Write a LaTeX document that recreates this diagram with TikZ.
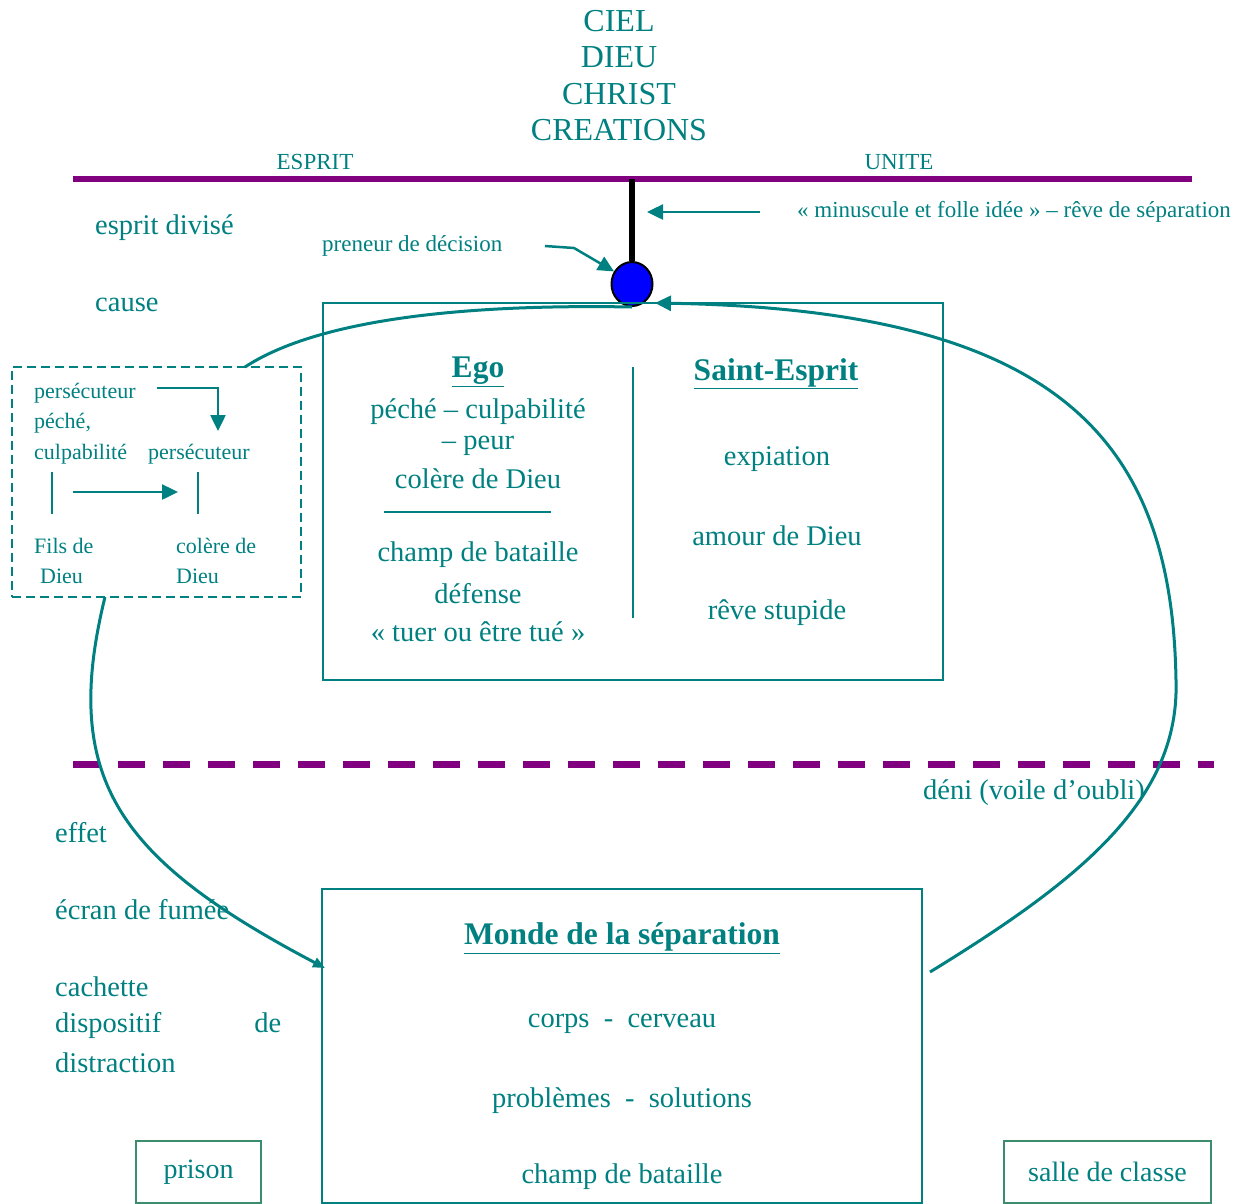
\documentclass[tikz,border=0pt]{standalone}
\usepackage{fontspec}
\setmainfont{Liberation Serif}
\usetikzlibrary{arrows.meta,shapes.geometric}

\definecolor{bleuvert}{RGB}{0,128,128}
\definecolor{pourpre}{RGB}{128,0,128}
\definecolor{vertcadre}{RGB}{60,140,110}

\tikzset{
	texte/.style={text=bleuvert, inner sep=0pt, font=\fontsize{28.5}{32}\selectfont},
	petit/.style={text=bleuvert, inner sep=0pt, font=\fontsize{22}{26}\selectfont},
	moyen/.style={text=bleuvert, inner sep=0pt, font=\fontsize{23}{26}\selectfont},
	titre/.style={text=bleuvert, inner sep=0pt, font=\fontsize{32}{36}\selectfont},
	gras/.style={text=bleuvert, inner sep=0pt, font=\fontsize{31.5}{34}\selectfont\bfseries},
	boite/.style={draw=bleuvert, line width=2pt, rectangle, inner sep=0pt},
	fleche/.style={draw=bleuvert, line width=2.5pt, -{Triangle[length=16pt,width=15pt]}},
	boucle/.style={draw=bleuvert, line width=3pt},
}

\begin{document}
\begin{tikzpicture}[x=1pt,y=-1pt]
	\useasboundingbox (0,0) rectangle (1243,1203);

	% Ciel
	\node[titre] (ciel) at (619,21) {CIEL};
	\node[titre] (dieu) at (619,57) {DIEU};
	\node[titre] (christ) at (619,94) {CHRIST};
	\node[titre] (creations) at (619,130) {CREATIONS};

	% ligne de l'unite
	\coordinate (uniteG) at (73,179);
	\coordinate (uniteD) at (1192,179);
	\draw[draw=pourpre, line width=6pt] (uniteG) -- (uniteD);
	\node[moyen] (esprit) at (315,162) {ESPRIT};
	\node[moyen] (unite) at (899,162) {UNITE};

	% preneur de decision
	\coordinate (tige) at (632,179);
	\node[ellipse, draw=black, line width=2pt, fill=blue, minimum width=41pt,
	minimum height=44pt, inner sep=0pt] (boule) at (632,284) {};
	\draw[line width=6pt] (tige) -- (boule.north);

	\node[moyen, anchor=west] (idee) at (797,212)
	{« minuscule et folle idée » – rêve de séparation};
	\coordinate (ideeD) at (760,212);
	\coordinate (ideeG) at (647,212);
	\draw[fleche] (ideeD) -- (ideeG);

	\node[moyen, anchor=west] (preneur) at (322,246) {preneur de décision};
	\coordinate (preneurD) at (545,246);
	\coordinate (preneurC) at (574,248);
	\draw[fleche] (preneurD) -- (preneurC) -- (boule.145);

	% colonne de gauche, en haut
	\node[texte, anchor=west] (divise) at (95,228) {esprit divisé};
	\node[texte, anchor=west] (cause) at (95,305) {cause};

	% cadre pointille
	\node[boite, dashed, dash pattern=on 9pt off 5pt, minimum width=289pt,
	minimum height=230pt] (cycle) at (156.5,482) {};
	\node[petit, anchor=west] (persecA) at (34,393) {persécuteur};
	\node[petit, anchor=west] (peche) at (34,423) {péché,};
	\node[petit, anchor=west] (culpa) at (34,454) {culpabilité};
	\node[petit, anchor=west] (persecB) at (148,454) {persécuteur};
	\node[petit, anchor=west] (fils) at (34,546) {Fils de};
	\node[petit, anchor=west] (filsB) at (40,576) {Dieu};
	\node[petit, anchor=west] (colere) at (176,546) {colère de};
	\node[petit, anchor=west] (colereB) at (176,576) {Dieu};
	\coordinate (barreAh) at (52,472);
	\coordinate (barreAb) at (52,514);
	\coordinate (barreBh) at (198,472);
	\coordinate (barreBb) at (198,514);
	\draw[draw=bleuvert, line width=2pt] (barreAh) -- (barreAb);
	\draw[draw=bleuvert, line width=2pt] (barreBh) -- (barreBb);
	\coordinate (filsD) at (73,492);
	\coordinate (colereG) at (178,492);
	\draw[fleche] (filsD) -- (colereG);
	\coordinate (coudeA) at (157,388);
	\coordinate (coudeB) at (218,431);
	\draw[fleche] (coudeA) -| (coudeB);

	% boite ego / saint-esprit
	\node[boite, minimum width=620pt, minimum height=377pt] (esprits) at (633,491.5) {};
	\coordinate (milieuH) at (633,367);
	\coordinate (milieuB) at (633,618);
	\draw[draw=bleuvert, line width=2pt] (milieuH) -- (milieuB);

	\node[gras] (ego) at (478,372) {\underline{Ego}};
	\node[texte] (egoA) at (478,412) {péché – culpabilité};
	\node[texte] (egoB) at (478,446) {– peur};
	\node[texte] (egoC) at (478,479) {colère de Dieu};
	\coordinate (traitG) at (384,512);
	\coordinate (traitD) at (551,512);
	\draw[draw=bleuvert, line width=2pt] (traitG) -- (traitD);
	\node[texte] (egoD) at (478,555) {champ de bataille};
	\node[texte] (egoE) at (478,594) {défense};
	\node[texte] (egoF) at (478,632) {« tuer ou être tué »};

	\node[gras] (saint) at (776,374) {\underline{Saint-Esprit}};
	\node[texte] (saintA) at (777,459) {expiation};
	\node[texte] (saintB) at (777,536) {amour de Dieu};
	\node[texte] (saintC) at (777,613) {rêve stupide};

	% ligne du deni
	\coordinate (deniG) at (73,764);
	\coordinate (deniD) at (1214,764);
	\draw[draw=pourpre, line width=7pt, dash pattern=on 27pt off 18pt] (deniG) -- (deniD);
	\node[texte, anchor=east] (deni) at (1145,793) {déni (voile d’oubli)};

	% colonne de gauche, en bas
	\node[texte, anchor=west] (effet) at (55,833) {effet};
	\node[texte, anchor=west] (ecran) at (55,910) {écran de fumée};
	\node[texte, anchor=west] (cachette) at (55,987) {cachette};
	\node[texte, anchor=west] (dispositif) at (55,1025)
	{\hbox to 226pt{dispositif\hfill de}};
	\node[texte, anchor=west] (distraction) at (55,1063) {distraction};

	% monde de la separation
	\node[boite, minimum width=600pt, minimum height=314pt] (monde) at (622,1046) {};
	\node[gras] (mondeT) at (622,938) {\underline{Monde de la séparation}};
	\node[texte] (mondeA) at (622,1024) {corps \ - \ cerveau};
	\node[texte] (mondeB) at (622,1101) {problèmes \ - \ solutions};
	\node[texte] (mondeC) at (622,1177) {champ de bataille};

	\node[draw=vertcadre, line width=2pt, text=bleuvert, inner sep=0pt,
	font=\fontsize{28}{32}\selectfont, minimum width=125pt, minimum height=62pt]
	(prison) at (198.5,1172) {prison};
	\node[draw=vertcadre, line width=2pt, text=bleuvert, inner sep=0pt,
	font=\fontsize{28}{32}\selectfont, minimum width=207pt, minimum height=62pt]
	(classe) at (1107.5,1172) {salle de classe};

	% la boucle
	\coordinate (cycleH) at (245,367);
	\coordinate (cycleB) at (105,597);
	\coordinate (mondeG) at (325,968);
	\coordinate (mondeD) at (930,972);
	\coordinate (retour) at (655,303);
	\draw[boucle] (cycleH) .. controls (320,318) and (470,304) .. (boule.south);
	\draw[boucle, -{Triangle[length=12pt,width=10pt]}] (cycleB)
	.. controls (60,780) and (120,860) .. (mondeG);
	\draw[boucle, -{Triangle[length=16pt,width=15pt]}] (mondeD)
	.. controls (1080,880) and (1180,800) .. (1176,680)
	.. controls (1172,440) and (1060,310) .. (retour);
\end{tikzpicture}
\end{document}
